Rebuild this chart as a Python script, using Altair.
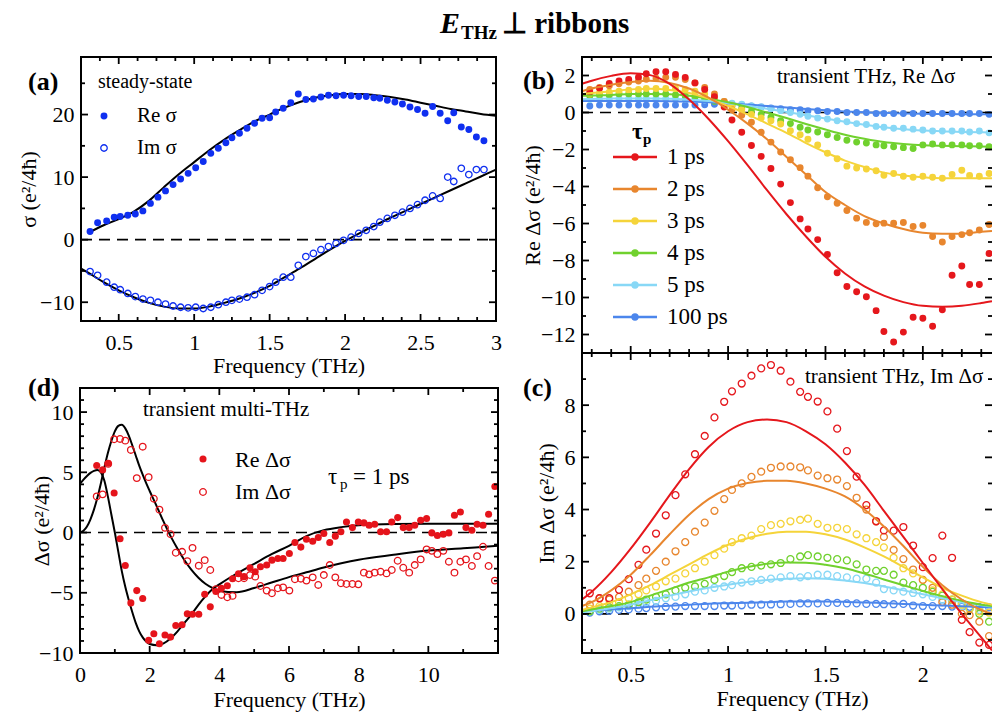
import altair as alt
import pandas as pd

FONT = "Liberation Serif"
VW, VH = 992, 714

# ---------------- (a) steady-state ----------------
a_freq = [0.31, 0.36, 0.42, 0.47, 0.51, 0.56, 0.61, 0.66, 0.71, 0.76, 0.81, 0.86, 0.91, 0.96, 1.01,
          1.06, 1.11, 1.16, 1.21, 1.25, 1.30, 1.35, 1.40, 1.45, 1.50, 1.54, 1.59, 1.64, 1.69, 1.74,
          1.79, 1.84, 1.89, 1.94, 1.99, 2.04, 2.09, 2.14, 2.19, 2.23, 2.28, 2.33, 2.38, 2.43, 2.48,
          2.53, 2.58, 2.63, 2.68, 2.72, 2.77, 2.82, 2.87, 2.92]
a_re = [1.3, 2.7, 3.0, 3.6, 3.7, 3.9, 4.1, 4.6, 5.8, 6.8, 7.8, 8.8, 9.7, 10.6, 11.5,
        12.5, 13.8, 14.6, 15.5, 16.3, 17.0, 17.8, 18.6, 19.4, 19.5, 20.4, 21.0, 21.9, 23.3, 22.4,
        22.5, 22.8, 23.1, 23.0, 23.1, 23.0, 22.9, 22.9, 22.7, 22.6, 22.3, 22.0, 21.7, 21.2, 20.8,
        20.2, 21.3, 20.2, 19.0, 20.3, 18.0, 17.6, 16.4, 15.8]
a_im = [-5.1, -5.7, -6.8, -7.6, -8.0, -8.6, -9.1, -9.5, -9.7, -10.0, -10.3, -10.6, -10.8, -10.9, -10.8,
        -11.0, -10.8, -10.4, -10.0, -9.7, -9.5, -9.2, -8.8, -8.1, -7.5, -6.8, -6.0, -6.0, -4.1, -2.7,
        -2.2, -1.6, -1.1, -0.6, -0.1, 0.4, 1.0, 1.5, 2.1, 2.8, 3.4, 3.9, 4.4, 5.0, 5.6,
        6.3, 7.0, 6.6, 10.0, 9.3, 11.4, 10.4, 11.2, 11.2]
a_fitre_f = [0.3, 0.4, 0.5, 0.6, 0.7, 0.8, 0.9, 1.0, 1.1, 1.2, 1.3, 1.4, 1.5, 1.6, 1.7, 1.8, 1.9,
             2.0, 2.1, 2.2, 2.3, 2.4, 2.5, 2.6, 2.7, 2.8, 2.9, 3.0]
a_fitre = [1.1, 2.3, 3.3, 4.5, 6.2, 8.4, 10.5, 12.4, 14.3, 16.0, 17.5, 18.9, 20.0, 21.1, 22.0, 22.7, 23.1,
           23.3, 23.3, 23.1, 22.8, 22.4, 21.9, 21.4, 20.9, 20.5, 20.1, 19.8]
a_fitim_f = [0.25, 0.3, 0.4, 0.5, 0.6, 0.7, 0.8, 0.9, 1.0, 1.1, 1.2, 1.3, 1.4, 1.5, 1.6, 1.7, 1.8, 1.9,
             2.0, 2.1, 2.2, 2.3, 2.4, 2.5, 2.6, 2.7, 2.8, 2.9, 3.0]
a_fitim = [-4.6, -5.3, -6.8, -8.1, -9.2, -10.1, -10.7, -11.0, -11.0, -10.7, -10.1, -9.4, -8.5, -7.4, -6.0,
           -4.6, -3.1, -1.6, -0.2, 1.1, 2.3, 3.5, 4.6, 5.7, 6.8, 7.9, 9.0, 10.1, 11.2]

# ---------------- (b), (c) transient THz ----------------
series = ["1 ps", "2 ps", "3 ps", "4 ps", "5 ps", "100 ps"]
series_colors = ["#e5171c", "#e8862e", "#f5d43a", "#70d12e", "#88d8f6", "#4c86ec"]

bc_freq = [0.29, 0.34, 0.39, 0.44, 0.49, 0.54, 0.58, 0.63, 0.68, 0.73, 0.78, 0.83, 0.88, 0.93, 0.98,
           1.02, 1.07, 1.12, 1.17, 1.22, 1.27, 1.32, 1.37, 1.41, 1.46, 1.51, 1.56, 1.61, 1.66, 1.71,
           1.76, 1.80, 1.85, 1.90, 1.95, 2.00, 2.05, 2.10, 2.15, 2.20, 2.24, 2.29, 2.34]

b_1ps = [1.1, 1.31, 1.57, 1.70, 1.79, 1.91, 2.09, 2.2, 2.2, 2.06, 1.9, 1.6, 1.25, 0.85, 0.3,
         -0.41, -1.07, -1.78, -2.37, -3.03, -3.87, -4.87, -5.75, -6.3, -6.87, -7.68, -8.66, -9.41, -9.69, -9.96,
         -10.71, -11.84, -12.41, -11.87, -11.07, -11.12, -11.55, -10.66, -8.8, -8.3, -9.3, -9.3, -7.62]
b_2ps = [1.25, 1.35, 1.45, 1.55, 1.65, 1.7, 1.8, 1.85, 1.9, 1.9, 1.78, 1.6, 1.35, 1.0, 0.6,
         0.15, -0.15, -0.53, -1.07, -1.6, -2.14, -2.55, -2.98, -3.44, -4.07, -4.55, -4.91, -5.3, -5.71, -5.94,
         -6.02, -5.98, -5.98, -5.95, -6.16, -6.1, -6.7, -7.0, -6.7, -6.6, -6.5, -6.35, -6.05]
b_3ps = [1.0, 1.05, 1.1, 1.15, 1.2, 1.25, 1.3, 1.3, 1.3, 1.3, 1.25, 1.15, 1.0, 0.8, 0.6,
         0.4, 0.15, -0.1, -0.3, -0.45, -0.62, -0.98, -1.2, -1.45, -1.75, -2.2, -2.5, -2.9, -3.0, -3.05,
         -3.15, -3.39, -3.3, -3.45, -3.5, -3.45, -3.5, -3.55, -3.35, -3.12, -3.4, -3.45, -3.3]
b_4ps = [0.9, 0.95, 0.95, 1.0, 1.0, 1.0, 1.0, 1.0, 1.0, 0.95, 0.9, 0.85, 0.75, 0.6, 0.5,
         0.35, 0.2, 0.05, -0.1, -0.25, -0.45, -0.6, -0.8, -0.95, -1.05, -1.2, -1.35, -1.5, -1.6, -1.65,
         -1.75, -1.8, -1.85, -1.9, -1.95, -1.75, -1.7, -1.75, -1.75, -1.75, -1.8, -1.8, -1.85]
b_5ps = [0.7, 0.75, 0.75, 0.75, 0.75, 0.75, 0.75, 0.75, 0.75, 0.75, 0.72, 0.7, 0.68, 0.65, 0.6,
         0.5, 0.45, 0.35, 0.3, 0.2, 0.1, 0.0, -0.1, -0.2, -0.3, -0.35, -0.45, -0.5, -0.6, -0.65,
         -0.75, -0.8, -0.85, -0.85, -0.9, -0.95, -1.0, -1.0, -1.0, -1.0, -1.05, -1.0, -1.1]
b_100ps = [0.35, 0.4, 0.4, 0.4, 0.4, 0.4, 0.4, 0.4, 0.4, 0.4, 0.4, 0.4, 0.42, 0.45, 0.45,
           0.45, 0.4, 0.35, 0.3, 0.25, 0.2, 0.15, 0.15, 0.1, 0.1, 0.05, 0.05, 0.0, 0.0, 0.0,
           -0.05, -0.05, -0.05, -0.05, -0.05, -0.05, -0.05, -0.05, -0.05, -0.05, -0.05, -0.05, -0.1]

c_1ps = [0.79, 0.6, 0.6, 0.92, 1.33, 1.88, 2.46, 3.08, 3.78, 4.55, 5.35, 6.12, 6.82, 7.53, 8.13,
         8.53, 8.83, 9.13, 9.41, 9.54, 9.32, 8.9, 8.51, 8.32, 8.14, 7.76, 7.1, 6.24, 5.26, 4.17,
         3.55, 3.2, 3.19, 3.33, 2.62, 1.79, 2.14, 3.0, 2.15, -0.23, -0.7, -1.1, -1.19]
c_2ps = [0.35, 0.6, 0.55, 0.65, 0.85, 1.1, 1.35, 1.65, 2.0, 2.4, 2.75, 3.15, 3.5, 3.95, 4.4,
         4.75, 5.0, 5.25, 5.45, 5.6, 5.65, 5.65, 5.62, 5.5, 5.3, 5.2, 5.15, 4.9, 4.45, 4.0,
         3.55, 2.95, 2.45, 2.1, 1.7, 1.3, 1.0, 0.45, 0.35, 0.0, -0.05, -0.3, -0.85]
c_3ps = [0.2, 0.3, 0.35, 0.45, 0.6, 0.75, 0.9, 1.05, 1.25, 1.35, 1.55, 1.75, 2.0, 2.25, 2.5,
         2.75, 2.9, 3.0, 3.25, 3.4, 3.45, 3.55, 3.6, 3.65, 3.45, 3.3, 3.3, 3.25, 3.05, 2.9,
         2.75, 2.55, 2.15, 1.75, 1.55, 1.3, 0.9, 0.75, 0.55, 0.35, 0.2, 0.1, 0.05]
c_4ps = [0.1, 0.2, 0.25, 0.3, 0.35, 0.45, 0.55, 0.65, 0.75, 0.9, 1.0, 1.05, 1.15, 1.3, 1.45,
         1.6, 1.75, 1.8, 1.85, 1.9, 1.95, 2.1, 2.2, 2.25, 2.2, 2.15, 2.1, 2.05, 1.9, 1.7,
         1.65, 1.65, 1.5, 1.2, 1.1, 1.0, 0.85, 0.7, 0.55, 0.4, 0.2, 0.0, -0.3]
c_5ps = [0.1, 0.15, 0.2, 0.25, 0.3, 0.35, 0.45, 0.5, 0.6, 0.65, 0.75, 0.85, 0.9, 1.0, 1.05,
         1.1, 1.2, 1.25, 1.3, 1.35, 1.4, 1.45, 1.4, 1.45, 1.5, 1.5, 1.45, 1.4, 1.35, 1.35,
         1.2, 0.95, 0.9, 0.85, 0.8, 0.75, 0.65, 0.55, 0.45, 0.3, 0.2, 0.15, 0.1]
c_100ps = [0.05, 0.1, 0.12, 0.15, 0.17, 0.2, 0.22, 0.25, 0.27, 0.28, 0.3, 0.3, 0.3, 0.3, 0.32,
           0.32, 0.33, 0.35, 0.35, 0.36, 0.37, 0.38, 0.4, 0.4, 0.4, 0.42, 0.42, 0.4, 0.4, 0.38,
           0.38, 0.37, 0.37, 0.38, 0.32, 0.3, 0.3, 0.3, 0.28, 0.27, 0.27, 0.26, 0.25]

bc_fit_f = [0.25, 0.3, 0.4, 0.5, 0.6, 0.7, 0.8, 0.9, 1.0, 1.1, 1.2, 1.3, 1.4, 1.5, 1.6, 1.7, 1.8, 1.9,
            2.0, 2.1, 2.2, 2.3, 2.355]
bfit_1ps = [1.55, 1.72, 1.98, 2.12, 2.02, 1.55, 0.7, -0.35, -1.55, -2.85, -4.2, -5.5, -6.7, -7.8, -8.7,
            -9.4, -9.9, -10.25, -10.45, -10.5, -10.45, -10.3, -10.2]
bfit_2ps = [1.15, 1.3, 1.5, 1.65, 1.72, 1.6, 1.3, 0.8, 0.15, -0.6, -1.45, -2.4, -3.35, -4.3, -5.0,
            -5.6, -6.0, -6.3, -6.5, -6.55, -6.55, -6.45, -6.4]
bfit_3ps = [1.0, 1.05, 1.15, 1.25, 1.28, 1.22, 1.05, 0.75, 0.35, -0.1, -0.6, -1.1, -1.65, -2.15, -2.6,
            -2.95, -3.25, -3.4, -3.5, -3.55, -3.55, -3.55, -3.55]
bfit_4ps = [0.9, 0.92, 0.95, 1.0, 1.0, 0.98, 0.9, 0.75, 0.55, 0.3, 0.0, -0.3, -0.62, -0.92, -1.2,
            -1.42, -1.6, -1.7, -1.77, -1.8, -1.82, -1.84, -1.85]
bfit_5ps = [0.72, 0.73, 0.75, 0.76, 0.76, 0.74, 0.7, 0.62, 0.5, 0.36, 0.2, 0.03, -0.15, -0.33, -0.5,
            -0.66, -0.8, -0.9, -0.97, -1.02, -1.05, -1.07, -1.08]
bfit_100ps = [0.62, 0.62, 0.62, 0.62, 0.62, 0.61, 0.59, 0.55, 0.5, 0.43, 0.35, 0.27, 0.19, 0.12, 0.06,
              0.01, -0.02, -0.05, -0.07, -0.08, -0.09, -0.1, -0.1]
cfit_1ps = [0.55, 0.85, 1.6, 2.5, 3.5, 4.55, 5.55, 6.4, 7.0, 7.35, 7.45, 7.35, 7.0, 6.5, 5.8,
            4.95, 3.95, 2.95, 1.95, 0.95, 0.0, -0.9, -1.4]
cfit_2ps = [0.3, 0.45, 0.9, 1.5, 2.25, 3.05, 3.8, 4.4, 4.8, 5.02, 5.1, 5.1, 5.0, 4.8, 4.5,
            4.0, 3.35, 2.6, 1.8, 1.1, 0.55, 0.15, 0.0]
cfit_3ps = [0.15, 0.25, 0.45, 0.75, 1.1, 1.5, 1.9, 2.3, 2.65, 2.9, 3.07, 3.15, 3.15, 3.05, 2.85,
            2.55, 2.2, 1.8, 1.4, 1.0, 0.7, 0.45, 0.35]
cfit_4ps = [0.1, 0.17, 0.3, 0.45, 0.7, 0.95, 1.2, 1.4, 1.62, 1.8, 1.92, 1.97, 1.96, 1.88, 1.75,
            1.55, 1.32, 1.1, 0.88, 0.68, 0.5, 0.35, 0.3]
cfit_5ps = [0.05, 0.1, 0.22, 0.35, 0.52, 0.7, 0.86, 1.0, 1.12, 1.22, 1.3, 1.35, 1.37, 1.35, 1.28,
            1.18, 1.05, 0.9, 0.75, 0.6, 0.45, 0.33, 0.28]
cfit_100ps = [0.1, 0.12, 0.17, 0.22, 0.27, 0.31, 0.35, 0.39, 0.41, 0.43, 0.45, 0.47, 0.47, 0.47, 0.46,
              0.44, 0.41, 0.38, 0.35, 0.32, 0.29, 0.26, 0.25]

# ---------------- (d) transient multi-THz ----------------
d_freq = [0.48, 0.65, 0.81, 0.98, 1.15, 1.30, 1.46, 1.63, 1.80, 1.97, 2.12, 2.28, 2.44, 2.60, 2.75,
          2.93, 3.08, 3.23, 3.41, 3.58, 3.74, 3.90, 4.06, 4.23, 4.38, 4.55, 4.71, 4.88, 5.03, 5.18,
          5.36, 5.51, 5.68, 5.83, 6.01, 6.17, 6.34, 6.50, 6.68, 6.84, 7.00, 7.17, 7.33, 7.49, 7.65,
          7.82, 7.99, 8.15, 8.30, 8.46, 8.63, 8.80, 8.95, 9.12, 9.28, 9.45, 9.61, 9.78, 9.95, 10.10,
          10.26, 10.43, 10.59, 10.75, 10.92, 11.08, 11.25, 11.40, 11.57, 11.73, 11.91]
d_re = [5.56, 5.2, 5.76, 3.28, -0.52, -2.73, -5.84, -4.82, -5.48, -8.95, -8.4, -9.23, -8.51, -8.68, -7.71,
        -7.66, -6.75, -6.78, -6.78, -5.12, -6.17, -4.9, -4.63, -4.41, -3.83, -3.42, -3.66, -2.92, -3.25, -2.84,
        -2.7, -2.29, -2.15, -2.15, -1.74, -0.83, -1.21, -0.55, -0.72, -0.41, -0.08, -0.83, -0.30, 0.06, 0.88,
        0.41, 0.88, 0.8, 0.61, 0.69, 0.06, 0.06, 0.88, 1.24, 0.41, 0.41, 0.61, 1.02, 1.16, -0.03,
        -0.25, -0.14, -0.03, 1.43, 1.71, 0.41, 0.19, 0.69, 0.61, 1.52, 3.83]
d_im = [3.0, 3.17, 5.7, 7.74, 7.77, 7.63, 6.86, 4.52, 7.13, 4.6, 2.81, 1.9, 0.39, -0.14, -1.68,
        -1.6, -2.37, -1.27, -2.75, -2.29, -3.11, -4.71, -5.18, -5.37, -5.26, -3.8, -3.8, -3.53, -3.66, -4.44,
        -4.82, -5.04, -4.63, -4.55, -4.82, -3.88, -3.83, -3.99, -3.72, -4.35, -3.53, -2.7, -3.72, -4.21, -4.27,
        -4.27, -4.3, -3.33, -3.47, -3.33, -3.25, -3.39, -3.11, -2.34, -2.92, -3.33, -2.7, -2.23, -1.4, -1.52,
        -1.79, -1.52, -2.42, -3.33, -2.42, -2.23, -2.78, -1.96, -1.18, -2.78, -3.99]
d_fit_f = [0, 0.1, 0.2, 0.3, 0.4, 0.5, 0.6, 0.7, 0.8, 0.9, 1.0, 1.1, 1.2, 1.3, 1.4, 1.5, 1.6, 1.7, 1.8,
           1.9, 2.0, 2.2, 2.4, 2.6, 2.8, 3.0, 3.2, 3.4, 3.6, 3.8, 4.0, 4.5, 5.0, 5.5, 6.0, 6.5, 7.0,
           7.5, 8.0, 9.0, 10.0, 11.0, 12.0]
d_fit_re = [4.05, 4.4, 4.7, 4.95, 5.12, 5.2, 5.0, 4.3, 3.0, 1.5, 0.0, -1.6, -3.2, -4.5, -5.6, -6.6, -7.5,
            -8.2, -8.7, -9.05, -9.25, -9.35, -9.2, -8.8, -8.2, -7.5, -6.8, -6.0, -5.3, -4.7, -4.3, -3.4,
            -2.6, -1.8, -1.1, -0.3, 0.2, 0.45, 0.6, 0.7, 0.72, 0.72, 0.72]
d_fit_im = [0.0, 0.15, 0.5, 1.1, 1.9, 2.9, 4.1, 5.4, 6.6, 7.6, 8.4, 8.85, 8.95, 8.65, 8.05, 7.25, 6.4,
            5.55, 4.8, 4.1, 3.45, 2.2, 0.9, -0.3, -1.35, -2.3, -3.1, -3.75, -4.25, -4.6, -4.85, -4.95,
            -4.6, -4.15, -3.7, -3.3, -2.9, -2.55, -2.25, -1.85, -1.5, -1.3, -1.1]

BLUE = "#0f2ff0"
RED = "#e5141b"

# ---------------- geometry ----------------
PA = dict(x0=81, x1=496, y0=57, y1=321, xdom=[0.25, 3.0], ydom=[-13, 29.2])
PB = dict(x0=582, x1=992, y0=57, y1=353, xdom=[0.25, 2.355], ydom=[-13, 3])
PC = dict(x0=582, x1=992, y0=353, y1=653, xdom=[0.25, 2.355], ydom=[-1.5, 10])
PD = dict(x0=80, x1=498, y0=388, y1=653, xdom=[0, 12], ydom=[-10, 12])


def xsc(p):
    return alt.Scale(domain=p["xdom"], range=[p["x0"], p["x1"]], nice=False, zero=False)


def ysc(p):
    return alt.Scale(domain=p["ydom"], range=[p["y1"], p["y0"]], nice=False, zero=False)


def split_ticks(start, stop, step, major):
    n = int(round((stop - start) / step))
    vals = [round(start + i * step, 4) for i in range(n + 1)]
    maj = [v for v in vals if abs(v / major - round(v / major)) < 1e-6]
    mnr = [v for v in vals if abs(v / major - round(v / major)) >= 1e-6]
    return maj, mnr


AX = dict(labelFont=FONT, labelFontSize=22, labelColor="black", titleFont=FONT, titleFontSize=22,
          titleFontWeight=400, titleColor="black", grid=False, labelOverlap=False, labelFlush=False,
          domain=False, ticks=False, zindex=0)

MAJ_LEN, MIN_LEN = 7, 4


def frame_and_ticks(p, xt, yt, right_frame=True):
    """Panel frame and inward ticks as rule segments positioned through the panel's scales."""
    xmaj, xmin = split_ticks(*xt)
    ymaj, ymin = split_ticks(*yt)
    (xa, xb), (ya, yb) = p["xdom"], p["ydom"]
    ux = (xb - xa) / (p["x1"] - p["x0"])
    uy = (yb - ya) / (p["y1"] - p["y0"])
    tick_rows = []
    for vals, L in [(xmaj, MAJ_LEN), (xmin, MIN_LEN)]:
        for v in vals:
            tick_rows.append({"x": v, "x2": v, "y": ya, "y2": ya + L * uy})
            tick_rows.append({"x": v, "x2": v, "y": yb, "y2": yb - L * uy})
    for vals, L in [(ymaj, MAJ_LEN), (ymin, MIN_LEN)]:
        for v in vals:
            tick_rows.append({"x": xa, "x2": xa + L * ux, "y": v, "y2": v})
            tick_rows.append({"x": xb, "x2": xb - L * ux, "y": v, "y2": v})
    frame_rows = [{"x": xa, "x2": xb, "y": ya, "y2": ya},
                  {"x": xa, "x2": xb, "y": yb, "y2": yb},
                  {"x": xa, "x2": xa, "y": ya, "y2": yb}]
    if right_frame:
        frame_rows.append({"x": xb, "x2": xb, "y": ya, "y2": yb})
    enc = dict(x=alt.X("x:Q", scale=xsc(p), axis=None), x2="x2:Q",
               y=alt.Y("y:Q", scale=ysc(p), axis=None), y2="y2:Q")
    ticks = alt.Chart(pd.DataFrame(tick_rows)).mark_rule(color="black", strokeWidth=1.8).encode(**enc)
    frame = alt.Chart(pd.DataFrame(frame_rows)).mark_rule(
        color="black", strokeWidth=2, strokeCap="square").encode(**enc)
    return [frame, ticks]


def label_axes(p, xlabels, ylabels, xtitle, ytitle, ytitle_x, xtitle_y=51, xtitle_x=None):
    xs, ys = xsc(p), ysc(p)
    base = alt.Chart(pd.DataFrame({"x": p["xdom"], "y": p["ydom"]})).mark_point(opacity=0)
    enc = {}
    if xlabels:
        xkw = dict(orient="bottom", offset=p["y1"] - VH, values=xlabels, labels=True, format="~f",
                   labelPadding=11, title=xtitle, titleY=xtitle_y, titleBaseline="alphabetic", **AX)
        if xtitle_x is not None:
            xkw["titleX"] = xtitle_x
        enc["x"] = alt.X("x:Q", scale=xs, axis=alt.Axis(**xkw))
    else:
        enc["x"] = alt.X("x:Q", scale=xs, axis=None)
    ykw = dict(orient="left", offset=-p["x0"], values=ylabels, format="~f", labelPadding=7,
               title=ytitle, titleX=ytitle_x, titleBaseline="middle", titleAngle=270, **AX)
    enc["y"] = alt.Y("y:Q", scale=ys, axis=alt.Axis(**ykw))
    return base.encode(**enc)


def zero_line(p):
    df = pd.DataFrame({"x": p["xdom"], "y": [0, 0]})
    return alt.Chart(df).mark_line(color="black", strokeDash=[11, 7], strokeWidth=1.6).encode(
        x=alt.X("x:Q", scale=xsc(p), axis=None), y=alt.Y("y:Q", scale=ysc(p), axis=None))


def xy_layer(p, f, v, mark):
    df = pd.DataFrame({"x": f, "y": v})
    return mark(alt.Chart(df)).encode(x=alt.X("x:Q", scale=xsc(p), axis=None),
                                      y=alt.Y("y:Q", scale=ysc(p), axis=None))


COLOR = alt.Color("s:N", scale=alt.Scale(domain=series, range=series_colors), legend=None)


def multi_layer(p, f, lists, mark, order_rev=False):
    rows = []
    idx = list(range(len(series)))
    if order_rev:
        idx = idx[::-1]
    for i in idx:
        for fx, vy in zip(f, lists[i]):
            rows.append({"x": fx, "y": vy, "s": series[i]})
    df = pd.DataFrame(rows)
    return mark(alt.Chart(df)).encode(x=alt.X("x:Q", scale=xsc(p), axis=None),
                                      y=alt.Y("y:Q", scale=ysc(p), axis=None),
                                      detail="s:N", color=COLOR)


def txt(s, x, y, size, weight="normal", style="normal", align="left", baseline="middle"):
    return alt.Chart(pd.DataFrame({"t": [s]})).mark_text(
        font=FONT, fontSize=size, fontWeight=weight, fontStyle=style, align=align,
        baseline=baseline, color="black").encode(x=alt.value(x), y=alt.value(y), text="t:N")


def dot(x, y, color, filled=True, size=48):
    df = pd.DataFrame({"k": [0]})
    if filled:
        m = alt.Chart(df).mark_circle(size=size, color=color, opacity=1)
    else:
        m = alt.Chart(df).mark_point(shape="circle", filled=False, size=size, color=color,
                                     strokeWidth=1.3, opacity=1)
    return m.encode(x=alt.value(x), y=alt.value(y))


axis_layers = []
data_layers = []
frame_layers = []

# ---- panel (a)
axis_layers.append(label_axes(PA, [0.5, 1, 1.5, 2, 2.5, 3], [-10, 0, 10, 20], "Frequency (THz)",
                              "σ (e²/4ħ)", 28 - PA["x0"], xtitle_y=51))
frame_layers += frame_and_ticks(PA, (0.375, 2.875, 0.125, 0.5), (-10, 25, 5, 10))
data_layers.append(zero_line(PA))
data_layers.append(xy_layer(PA, a_fitre_f, a_fitre,
                            lambda c: c.mark_line(color="black", strokeWidth=2, interpolate="monotone")))
data_layers.append(xy_layer(PA, a_fitim_f, a_fitim,
                            lambda c: c.mark_line(color="black", strokeWidth=2, interpolate="monotone")))
data_layers.append(xy_layer(PA, a_freq, a_re, lambda c: c.mark_circle(size=48, color=BLUE, opacity=1)))
data_layers.append(xy_layer(PA, a_freq, a_im,
                            lambda c: c.mark_point(shape="circle", filled=False, size=42, color=BLUE,
                                                   strokeWidth=1.3, opacity=1)))

# ---- panel (b)
axis_layers.append(label_axes(PB, None, [-12, -10, -8, -6, -4, -2, 0, 2], None, "Re Δσ (e²/4ħ)",
                              532 - PB["x0"]))
frame_layers += frame_and_ticks(PB, (0.3, 2.3, 0.1, 0.5), (-12, 2, 1, 2), right_frame=False)
data_layers.append(zero_line(PB))
b_lists = [b_1ps, b_2ps, b_3ps, b_4ps, b_5ps, b_100ps]
bfit_lists = [bfit_1ps, bfit_2ps, bfit_3ps, bfit_4ps, bfit_5ps, bfit_100ps]
data_layers.append(multi_layer(PB, bc_freq, b_lists,
                               lambda c: c.mark_circle(size=48, opacity=1), order_rev=True))
data_layers.append(multi_layer(PB, bc_fit_f, bfit_lists,
                               lambda c: c.mark_line(strokeWidth=2, interpolate="monotone"), order_rev=True))

# ---- panel (c)
axis_layers.append(label_axes(PC, [0.5, 1, 1.5, 2], [0, 2, 4, 6, 8], "Frequency (THz)", "Im Δσ (e²/4ħ)",
                              546 - PC["x0"], xtitle_y=52, xtitle_x=792))
frame_layers += frame_and_ticks(PC, (0.3, 2.3, 0.1, 0.5), (-1, 9, 1, 2), right_frame=False)
data_layers.append(zero_line(PC))
c_lists = [c_1ps, c_2ps, c_3ps, c_4ps, c_5ps, c_100ps]
cfit_lists = [cfit_1ps, cfit_2ps, cfit_3ps, cfit_4ps, cfit_5ps, cfit_100ps]
data_layers.append(multi_layer(PC, bc_freq, c_lists,
                               lambda c: c.mark_point(shape="circle", filled=False, size=48,
                                                      strokeWidth=1.3, opacity=1), order_rev=True))
data_layers.append(multi_layer(PC, bc_fit_f, cfit_lists,
                               lambda c: c.mark_line(strokeWidth=2, interpolate="monotone"), order_rev=True))

# ---- panel (d)
axis_layers.append(label_axes(PD, [0, 2, 4, 6, 8, 10], [-10, -5, 0, 5, 10], "Frequency (THz)",
                              "Δσ (e²/4ħ)", 41 - PD["x0"], xtitle_y=53))
frame_layers += frame_and_ticks(PD, (1, 11, 1, 2), (-9, 11, 1, 5))
data_layers.append(zero_line(PD))
data_layers.append(xy_layer(PD, d_fit_f, d_fit_re,
                            lambda c: c.mark_line(color="black", strokeWidth=2, interpolate="monotone")))
data_layers.append(xy_layer(PD, d_fit_f, d_fit_im,
                            lambda c: c.mark_line(color="black", strokeWidth=2, interpolate="monotone")))
data_layers.append(xy_layer(PD, d_freq, d_re, lambda c: c.mark_circle(size=50, color=RED, opacity=1)))
data_layers.append(xy_layer(PD, d_freq, d_im,
                            lambda c: c.mark_point(shape="circle", filled=False, size=44, color=RED,
                                                   strokeWidth=1.3, opacity=1)))

# ---- legend of (b)
leg = pd.DataFrame({"row": list(range(len(series))), "s": series})
leg_y = alt.Y("row:Q", scale=alt.Scale(domain=[0, 5], range=[157, 317]), axis=None)
data_layers.append(alt.Chart(leg).mark_rule(strokeWidth=2.5).encode(
    x=alt.value(613), x2=alt.value(657), y=leg_y, color=COLOR))
data_layers.append(alt.Chart(leg).mark_circle(size=55, opacity=1).encode(
    x=alt.value(635), y=leg_y, color=COLOR))
data_layers.append(alt.Chart(leg).mark_text(font=FONT, fontSize=23, align="left", baseline="middle",
                                            color="black").encode(x=alt.value(667), y=leg_y, text="s:N"))

# ---- annotations
data_layers += [
    txt("(a)", 28, 82, 26, weight="bold"),
    txt("(b)", 523, 81, 26, weight="bold"),
    txt("(c)", 523, 388, 26, weight="bold"),
    txt("(d)", 28, 388, 26, weight="bold"),
    txt("steady-state", 98, 82, 20),
    txt("Re σ", 137, 116, 21),
    txt("Im σ", 137, 148, 21),
    txt("transient THz, Re Δσ", 777, 77, 21),
    txt("transient THz, Im Δσ", 805, 377, 21),
    txt("transient multi-THz", 143, 410, 21),
    txt("Re Δσ", 235, 460, 22),
    txt("Im Δσ", 235, 492, 22),
    txt("τ", 328, 477, 23),
    txt("p", 340, 484, 15),
    txt("= 1 ps", 353, 477, 23),
    txt("τ", 632, 132, 23, weight="bold"),
    txt("p", 643, 139, 15, weight="bold"),
    txt("E", 440, 33, 30, weight="bold", style="italic", baseline="alphabetic"),
    txt("THz", 461, 39, 19, weight="bold", baseline="alphabetic"),
    txt("⊥ ribbons", 502, 33, 29, weight="bold", baseline="alphabetic"),
    dot(104, 116, BLUE, True, 48),
    dot(104, 148, BLUE, False, 42),
    dot(203, 459, RED, True, 50),
    dot(203, 492, RED, False, 44),
]

chart = alt.layer(*(axis_layers + data_layers + frame_layers)).resolve_scale(
    x="independent", y="independent", color="independent"
).resolve_axis(x="independent", y="independent").properties(
    width=VW, height=VH, padding=0, autosize=alt.AutoSizeParams(type="none")
).configure_view(stroke=None)

chart.save("out.html", embed_options={"renderer": "svg", "actions": False})
